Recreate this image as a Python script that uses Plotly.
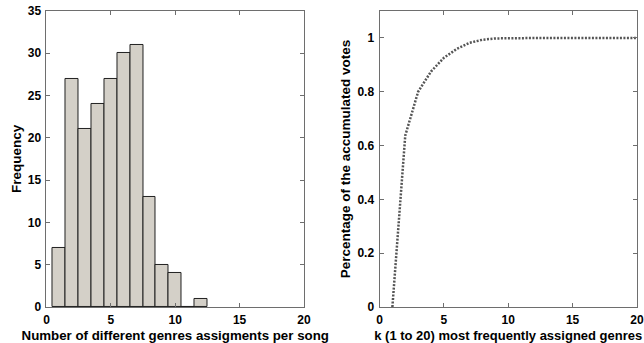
import plotly.graph_objects as go

# Left: histogram of genre-assignment counts per song
bin_centers = [1, 2, 3, 4, 5, 6, 7, 8, 9, 10, 11, 12]
frequency = [7, 27, 21, 24, 27, 30, 31, 13, 5, 4, 0, 1]

# Right: cumulative share of votes for top-k genres
k_values = list(range(1, 21))
cum_votes = [0.0, 0.637, 0.80, 0.875, 0.926, 0.959, 0.982, 0.993, 0.998, 0.999,
             1.0, 1.0, 1.0, 1.0, 1.0, 1.0, 1.0, 1.0, 1.0, 1.0]

FONT = "Liberation Sans, Arial, sans-serif"
FRAME = "#6e6e6e"

fig = go.Figure()
fig.add_trace(go.Bar(x=bin_centers, y=frequency, width=1,
                     marker=dict(color="#d4d0c8", line=dict(color="#202020", width=1)),
                     xaxis="x", yaxis="y", showlegend=False))
fig.add_trace(go.Scatter(x=k_values, y=cum_votes, mode="lines",
                         line=dict(color="#555555", width=2.5, dash="2px,1.5px"),
                         xaxis="x2", yaxis="y2", showlegend=False))

axis_common = dict(showline=True, linecolor=FRAME, linewidth=1, mirror="allticks",
                   ticks="inside", ticklen=4, tickcolor=FRAME, showgrid=False,
                   zeroline=False, automargin=False, ticklabelstandoff=2,
                   tickfont=dict(family=FONT, size=12, color="black", weight="bold"))
title_font = dict(family=FONT, size=13.5, color="black", weight="bold")
title_font_small = dict(family=FONT, size=13, color="black", weight="bold")

fig.update_layout(
    width=644, height=343,
    margin=dict(l=0, r=0, t=0, b=0),
    plot_bgcolor="white", paper_bgcolor="white",
    bargap=0,
    xaxis=dict(domain=[0.0722, 0.472], range=[0, 20], tickvals=[0, 5, 10, 15, 20],
               title=dict(text="Number of different genres assigments per song",
                          font=dict(family=FONT, size=13.3, color="black", weight="bold"),
                          standoff=5), anchor="y", **axis_common),
    yaxis=dict(domain=[0.105, 0.968], range=[0, 35], tickvals=[0, 5, 10, 15, 20, 25, 30, 35],
               title=dict(text="Frequency", font=title_font, standoff=3), anchor="x",
               **axis_common),
    xaxis2=dict(domain=[0.5893, 0.9891], range=[0, 20], tickvals=[0, 5, 10, 15, 20],
                title=dict(text="k (1 to 20) most frequently assigned genres",
                           font=title_font_small, standoff=5), anchor="y2", **axis_common),
    yaxis2=dict(domain=[0.105, 0.968], range=[0, 1.1], tickvals=[0, 0.2, 0.4, 0.6, 0.8, 1],
                ticktext=["0", "0.2", "0.4", "0.6", "0.8", "1"],
                title=dict(text="Percentage of the accumulated votes", font=title_font,
                           standoff=3), anchor="x2", **axis_common),
)

fig.write_html("out.html")
